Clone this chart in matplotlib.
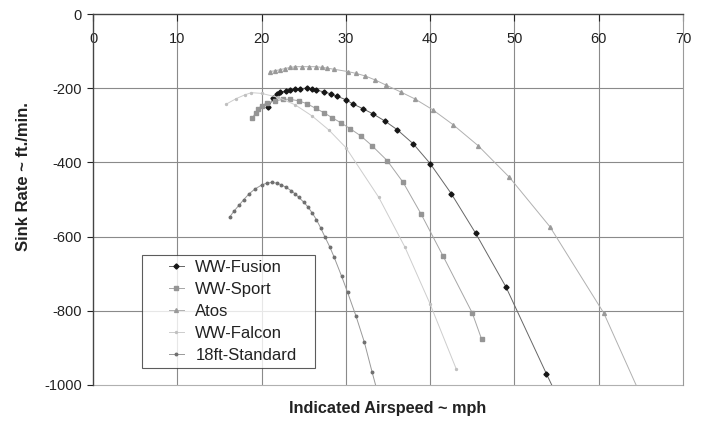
import matplotlib
matplotlib.use("Agg")
import matplotlib.pyplot as plt
from matplotlib.legend_handler import HandlerLine2D

plt.rcParams['font.family'] = ['Liberation Sans', 'DejaVu Sans']
plt.rcParams['axes.unicode_minus'] = False

# ---- data ----
fusion_x = [20.8, 21.4, 21.8, 22.2, 22.9, 23.4, 24.0, 24.6, 25.4, 26.0, 26.5, 27.4, 28.2, 29.0,
            30.0, 30.8, 32.0, 33.2, 34.6, 36.1, 38.0, 40.0, 42.5, 45.4, 49.0, 53.8, 56.0]
fusion_y = [-252, -226, -215, -211, -207, -205, -203, -201, -200, -202, -205, -210, -215, -222,
            -231, -242, -255, -269, -288, -312, -350, -403, -484, -591, -736, -970, -1075]

sport_x = [18.9, 19.3, 19.6, 20.0, 20.6, 21.6, 22.6, 23.4, 24.4, 25.4, 26.4, 27.4, 28.4, 29.4,
           30.5, 31.8, 33.1, 34.9, 36.8, 38.9, 41.5, 45.0, 46.1]
sport_y = [-280, -266, -255, -247, -240, -234, -230, -230, -234, -242, -254, -266, -280, -293,
           -309, -329, -355, -395, -454, -538, -651, -806, -876]

atos_x = [21.0, 21.6, 22.2, 22.8, 23.4, 24.0, 24.8, 25.6, 26.4, 27.2, 27.8, 28.6, 30.2, 31.2,
          32.3, 33.5, 34.8, 36.5, 38.2, 40.3, 42.7, 45.7, 49.4, 54.2, 60.6, 67.0]
atos_y = [-155, -153, -150, -147, -144, -142, -142, -142, -142, -144, -146, -149, -155, -160,
          -167, -178, -192, -210, -229, -258, -298, -355, -440, -573, -806, -1130]

falcon_x = [15.8, 17.0, 18.0, 18.8, 20.0, 22.0, 24.0, 26.0, 28.0, 30.0, 33.9, 37.0, 40.0, 43.1]
falcon_y = [-243, -228, -218, -212, -214, -225, -245, -275, -313, -360, -494, -628, -782, -957]

std_x = [16.2, 16.7, 17.3, 17.9, 18.5, 19.2, 20.0, 20.6, 21.2, 21.8, 22.3, 22.9, 23.5, 24.0,
         24.4, 25.0, 25.5, 26.0, 26.5, 27.0, 27.5, 28.1, 28.6, 29.5, 30.2, 31.2, 32.2, 33.1, 34.0]
std_y = [-548, -532, -516, -500, -485, -472, -461, -456, -454, -456, -460, -467, -476, -485,
         -494, -507, -520, -536, -554, -576, -600, -628, -655, -707, -750, -814, -885, -964, -1040]

series_names = ["WW-Fusion", "WW-Sport", "Atos", "WW-Falcon", "18ft-Standard"]
x_ticks = [0, 10, 20, 30, 40, 50, 60, 70]
y_ticks = [0, -200, -400, -600, -800, -1000]

# ---- figure ----
fig = plt.figure(figsize=(7.02, 4.21), dpi=100)
ax = fig.add_axes([93 / 702, 1 - 385 / 421, 590 / 702, 371 / 421])

ax.set_xlim(0, 70)
ax.set_ylim(-1000, 0)

# grid
for xv in x_ticks[1:-1]:
    ax.axvline(xv, color='#8a8a8a', lw=0.8, zorder=1)
for yv in y_ticks[1:-1]:
    ax.axhline(yv, color='#8a8a8a', lw=0.8, zorder=1)

styles = [
    dict(color='#666666', marker='D', ms=2.6, mfc='#161616', mec='#161616', lw=0.7),
    dict(color='#a6a6a6', marker='s', ms=2.4, mfc='#959595', mec='#959595', lw=0.7),
    dict(color='#b0b0b0', marker='^', ms=2.8, mfc='#9a9a9a', mec='#9a9a9a', lw=0.7),
    dict(color='#cdcdcd', marker='o', ms=1.4, mfc='#c0c0c0', mec='#c0c0c0', lw=0.7),
    dict(color='#999999', marker='o', ms=1.8, mfc='#707070', mec='#707070', lw=0.7),
]
data = [(fusion_x, fusion_y), (sport_x, sport_y), (atos_x, atos_y),
        (falcon_x, falcon_y), (std_x, std_y)]
handles = []
for (xs, ys), name, st in zip(data, series_names, styles):
    h, = ax.plot(xs, ys, label=name, zorder=3, clip_on=True, **st)
    handles.append(h)

# spines: x axis crosses at y=0 (top)
ax.spines['bottom'].set_position(('data', 0))
ax.spines['bottom'].set_color('#444444')
ax.spines['bottom'].set_linewidth(1.0)
ax.spines['top'].set_visible(False)
ax.spines['left'].set_color('#444444')
ax.spines['left'].set_linewidth(1.0)
ax.spines['right'].set_color('#9a9a9a')
ax.spines['right'].set_linewidth(0.8)
ax.axhline(-1000, color='#b0b0b0', lw=0.8, zorder=1, clip_on=False)

ax.set_xticks(x_ticks)
ax.set_yticks(y_ticks)
ax.tick_params(axis='x', direction='out', length=5, width=0.8, pad=8,
               labelsize=10.5, colors='#222222')
ax.tick_params(axis='y', direction='out', length=4, width=0.8, pad=4,
               labelsize=10.5, colors='#222222')

ax.set_xlabel("Indicated Airspeed ~ mph", fontsize=11.7, fontweight='bold', color='#222222')
ax.xaxis.set_label_coords(0.5, -0.042)
ax.xaxis.label.set_va('top')
ax.set_ylabel("Sink Rate ~ ft./min.", fontsize=12, fontweight='bold', color='#222222')
ax.yaxis.set_label_coords(-0.117, 0.561)
ax.yaxis.label.set_va('center')


class OffsetHandler(HandlerLine2D):
    def create_artists(self, legend, orig_handle, xdescent, ydescent, width, height,
                       fontsize, trans):
        shift = width * 0.6
        return super().create_artists(legend, orig_handle, xdescent - shift, ydescent,
                                      width - shift, height, fontsize, trans)


leg = ax.legend(handles=handles, loc='upper left',
                bbox_to_anchor=(49 / 590, 1 - (255 - 14) / 371, 173 / 590, 0.0),
                mode='expand', borderaxespad=0.0,
                fontsize=12, frameon=True, fancybox=False,
                edgecolor='#333333', borderpad=0.3, labelspacing=0.42,
                handlelength=2.2, handletextpad=0.7, numpoints=1,
                handler_map={h: OffsetHandler() for h in handles})
leg.get_frame().set_linewidth(0.8)
for t in leg.get_texts():
    t.set_color('#222222')

fig.savefig("out.png", dpi=100, facecolor='white')
